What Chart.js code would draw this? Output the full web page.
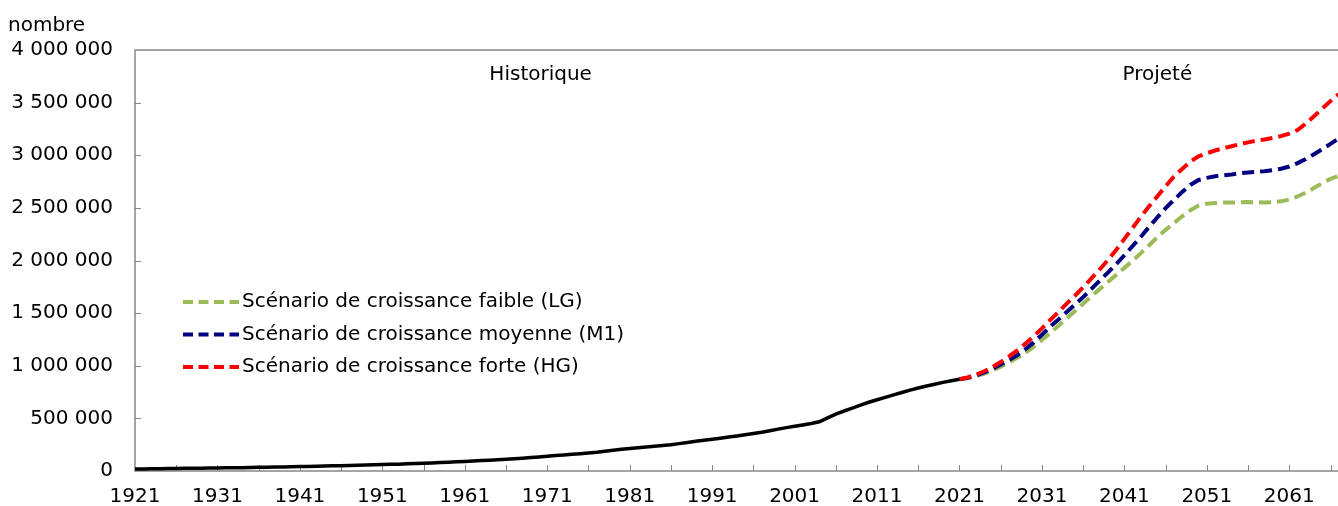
<!DOCTYPE html>
<html>
<head>
<meta charset="utf-8">
<script src="https://cdn.jsdelivr.net/npm/chart.js@4"></script>
<style>
html, body { margin: 0; padding: 0; background: #fff; overflow: hidden; }
#wrap { width: 1347px; height: 506px; position: relative; }
</style>
</head>
<body>
<div id="wrap"><canvas id="chart"></canvas></div>
<script>
const firstYear = 1921;
const projStart = 2021;

// historique, 1921 -> 2021
const historique = [
    19000, 20000, 21000, 22000, 23000, 24000, 25000, 26000, 27000, 28000,
    29000, 30000, 31000, 32000, 33000, 35000, 36000, 37000, 39000, 40000,
    42000, 43000, 45000, 47000, 49000, 51000, 53000, 55000, 57000, 59000,
    61000, 63000, 65000, 68000, 71000, 74000, 77000, 80000, 84000, 87000,
    91000, 95000, 99000, 103000, 108000, 112000, 117000, 122000, 128000, 134000,
    141000, 147000, 153000, 159000, 165000, 171000, 178000, 188000, 197000, 206000,
    214000, 222000, 229000, 236000, 243000, 250000, 260000, 271000, 282000, 292000,
    302000, 312000, 322000, 333000, 344000, 356000, 368000, 383000, 398000, 412000,
    425000, 438000, 452000, 468000, 505000, 540000, 570000, 598000, 625000, 653000,
    677000, 700000, 723000, 746000, 768000, 789000, 808000, 825000, 842000, 858000,
    872000
];

// projections, 2021 -> 2068
const faible = [
    872000, 882000, 900000, 925000, 955000, 990000, 1030000, 1075000, 1125000, 1180000,
    1245000, 1312000, 1380000, 1450000, 1520000, 1590000, 1660000, 1728000, 1795000, 1862000,
    1930000, 2000000, 2070000, 2145000, 2222000, 2292000, 2355000, 2420000, 2478000, 2522000,
    2540000, 2546000, 2550000, 2551000, 2553000, 2555000, 2553000, 2551000, 2553000, 2562000,
    2580000, 2608000, 2645000, 2688000, 2735000, 2775000, 2805000, 2850000
];
const moyenne = [
    872000, 886000, 908000, 937000, 972000, 1012000, 1055000, 1100000, 1158000, 1222000,
    1295000, 1371000, 1440000, 1510000, 1580000, 1652000, 1730000, 1808000, 1885000, 1965000,
    2050000, 2138000, 2226000, 2320000, 2410000, 2498000, 2575000, 2650000, 2718000, 2765000,
    2785000, 2800000, 2810000, 2818000, 2828000, 2836000, 2842000, 2848000, 2858000, 2872000,
    2893000, 2925000, 2965000, 3010000, 3058000, 3108000, 3160000, 3215000
];
const forte = [
    872000, 890000, 915000, 948000, 988000, 1035000, 1088000, 1145000, 1210000, 1280000,
    1355000, 1435000, 1510000, 1590000, 1665000, 1745000, 1830000, 1915000, 2005000, 2100000,
    2205000, 2310000, 2416000, 2515000, 2610000, 2705000, 2796000, 2870000, 2940000, 2990000,
    3020000, 3045000, 3066000, 3085000, 3105000, 3122000, 3138000, 3150000, 3165000, 3182000,
    3205000, 3240000, 3300000, 3370000, 3445000, 3515000, 3580000, 3650000
];

const tickYears = [1921, 1931, 1941, 1951, 1961, 1971, 1981, 1991, 2001, 2011, 2021, 2031, 2041, 2051, 2061];
const seriesNames = [
    "Scénario de croissance faible (LG)",
    "Scénario de croissance moyenne (M1)",
    "Scénario de croissance forte (HG)"
];
const seriesColors = ['#9BBB59', '#000080', '#FF0000'];

const FONT = 'DejaVu Sans, Verdana, sans-serif';
const AXIS_GREY = '#868686';

function toPoints(values, start) {
    return values.map((v, i) => ({ x: start + i, y: v }));
}

function spaced(n) {
    return String(n).replace(/\B(?=(\d{3})+(?!\d))/g, ' ');
}

const decor = {
    id: 'decor',
    beforeDatasetsDraw(chart) {
        const { ctx, chartArea: a, scales } = chart;
        ctx.save();
        ctx.strokeStyle = AXIS_GREY;
        ctx.lineWidth = 1.5;
        ctx.strokeRect(a.left, a.top, a.right - a.left, a.bottom - a.top);
        ctx.lineWidth = 1;
        ctx.beginPath();
        for (let yr = firstYear + 5; yr <= scales.x.max; yr += 5) {
            const px = Math.round(scales.x.getPixelForValue(yr)) + 0.5;
            ctx.moveTo(px, a.bottom);
            ctx.lineTo(px, a.bottom - 6);
        }
        for (let v = 500000; v < scales.y.max; v += 500000) {
            const py = Math.round(scales.y.getPixelForValue(v)) + 0.5;
            ctx.moveTo(a.left, py);
            ctx.lineTo(a.left + 6, py);
        }
        ctx.stroke();
        ctx.restore();
    },
    afterDraw(chart) {
        const { ctx, chartArea: a, scales } = chart;
        ctx.save();
        ctx.fillStyle = '#000';
        ctx.font = '20px ' + FONT;
        ctx.textBaseline = 'alphabetic';
        ctx.textAlign = 'left';
        ctx.fillText('nombre', 8, 31);

        ctx.textAlign = 'center';
        ctx.textBaseline = 'middle';
        ctx.fillText('Historique', scales.x.getPixelForValue(1970.2), a.top + 25);
        ctx.fillText('Projeté', scales.x.getPixelForValue(2045), a.top + 25);

        // legend
        const lx = a.left + 48;
        let ly = 302;
        seriesNames.forEach((name, i) => {
            ctx.strokeStyle = seriesColors[i];
            ctx.lineWidth = 4;
            ctx.setLineDash([10, 5.5]);
            ctx.beginPath();
            ctx.moveTo(lx, ly);
            ctx.lineTo(lx + 56, ly);
            ctx.stroke();
            ctx.setLineDash([]);
            ctx.textAlign = 'left';
            ctx.fillStyle = '#000';
            ctx.fillText(name, lx + 59, ly);
            ly += 32.5;
        });
        ctx.restore();
    }
};

function dashed(label, values, color) {
    return {
        label: label,
        data: toPoints(values, projStart),
        borderColor: color,
        borderWidth: 4,
        borderDash: [12, 6],
        pointRadius: 0,
        fill: false,
        tension: 0
    };
}

new Chart(document.getElementById('chart'), {
    type: 'line',
    data: {
        datasets: [
            {
                label: 'Historique',
                data: toPoints(historique, firstYear),
                borderColor: '#000',
                borderWidth: 3.5,
                pointRadius: 0,
                fill: false,
                tension: 0
            },
            dashed(seriesNames[2], forte, seriesColors[2]),
            dashed(seriesNames[1], moyenne, seriesColors[1]),
            dashed(seriesNames[0], faible, seriesColors[0])
        ]
    },
    options: {
        responsive: true,
        maintainAspectRatio: false,
        animation: false,
        layout: { padding: { top: 50, left: 0, right: 0, bottom: 0 } },
        plugins: {
            legend: { display: false },
            tooltip: { enabled: false }
        },
        scales: {
            x: {
                type: 'linear',
                min: firstYear,
                max: 2068,
                afterBuildTicks: (scale) => {
                    scale.ticks = tickYears.map(v => ({ value: v }));
                },
                afterFit: (scale) => { scale.height = 35; },
                grid: { display: false, drawTicks: false },
                border: { display: false },
                ticks: {
                    padding: 14,
                    maxRotation: 0,
                    autoSkip: false,
                    color: '#000',
                    font: { family: FONT, size: 20 },
                    callback: (v) => String(v)
                }
            },
            y: {
                min: 0,
                max: 4000000,
                afterFit: (scale) => { scale.width = 135; },
                grid: { display: false, drawTicks: false },
                border: { display: false },
                ticks: {
                    stepSize: 500000,
                    padding: 22,
                    color: '#000',
                    font: { family: FONT, size: 20 },
                    callback: (v) => spaced(v)
                }
            }
        }
    },
    plugins: [decor]
});
</script>
</body>
</html>
